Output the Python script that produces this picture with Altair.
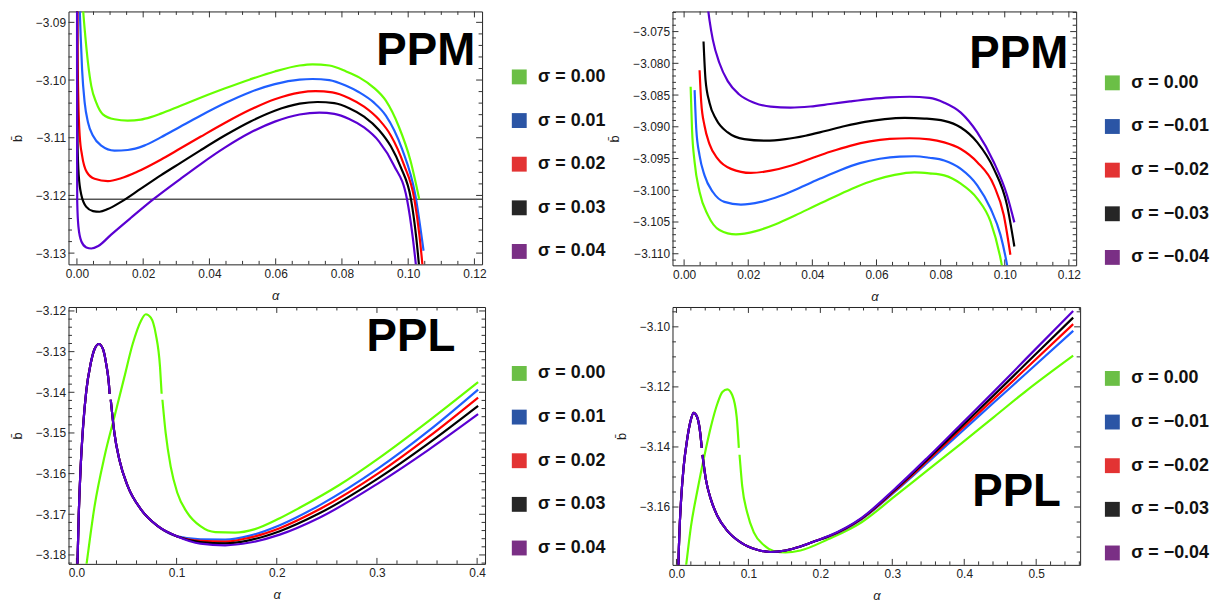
import altair as alt
import pandas as pd

FONT = "Liberation Sans"

# ---------------- categories / styles ----------------
SIG_POS = ["σ = 0.00", "σ = 0.01", "σ = 0.02", "σ = 0.03", "σ = 0.04"]
SIG_NEG = ["σ = 0.00", "σ = −0.01", "σ = −0.02", "σ = −0.03", "σ = −0.04"]
LINE_COLORS = ["#66ff00", "#1f5fff", "#ff0000", "#000000", "#5a00d2"]
LEGEND_COLORS = ["#6bbf46", "#2b55a5", "#e33333", "#262626", "#7a2f85"]

# ---------------- panel 1 : PPM, sigma >= 0 ----------------
P1_S0_A = [0.00174, 0.00186, 0.00254, 0.00335, 0.00434, 0.00584, 0.00784, 0.01132, 0.01533, 0.01931, 0.02231, 0.0253, 0.03129, 0.03728, 0.04476, 0.05225, 0.05973, 0.06722, 0.07111, 0.0762, 0.08129, 0.08518, 0.08967, 0.09326, 0.09716, 0.10066, 0.10335]
P1_S0_B = [-3.08673, -3.08777, -3.09246, -3.09705, -3.10105, -3.10392, -3.10594, -3.10680, -3.10702, -3.10685, -3.10642, -3.10582, -3.10444, -3.10307, -3.10143, -3.09989, -3.09851, -3.09748, -3.09727, -3.09748, -3.09851, -3.09954, -3.10135, -3.10358, -3.10805, -3.11390, -3.12065]
P1_S1_A = [0.00075, 0.00084, 0.00114, 0.00156, 0.00234, 0.00335, 0.00485, 0.00734, 0.01132, 0.01533, 0.0203, 0.0253, 0.03129, 0.03728, 0.04476, 0.05225, 0.05973, 0.06722, 0.07111, 0.0762, 0.08129, 0.08518, 0.08967, 0.09326, 0.09814, 0.10216, 0.10464]
P1_S1_B = [-3.08673, -3.08777, -3.09246, -3.09820, -3.10392, -3.10736, -3.10965, -3.11137, -3.11223, -3.11212, -3.11137, -3.10994, -3.10805, -3.10618, -3.10399, -3.10210, -3.10071, -3.09992, -3.09982, -3.10002, -3.10100, -3.10212, -3.10392, -3.10616, -3.11195, -3.11996, -3.12959]
P1_S2_A = [0.00015, 0.00021, 0.00045, 0.00084, 0.00156, 0.00299, 0.00533, 0.00934, 0.01332, 0.01832, 0.0253, 0.03129, 0.03728, 0.04476, 0.05225, 0.05973, 0.06722, 0.07201, 0.0771, 0.08219, 0.08668, 0.09117, 0.09476, 0.09865, 0.10186, 0.10344, 0.10449]
P1_S2_B = [-3.08673, -3.09533, -3.10392, -3.10965, -3.11309, -3.11596, -3.11711, -3.11751, -3.11702, -3.11587, -3.11381, -3.11183, -3.10984, -3.10740, -3.10516, -3.10332, -3.10217, -3.10193, -3.10214, -3.10315, -3.10461, -3.10685, -3.10960, -3.11458, -3.12065, -3.12713, -3.13315]
P1_S3_A = [0.00005, 0.0001, 0.00018, 0.00054, 0.00135, 0.00284, 0.00485, 0.00683, 0.00934, 0.01332, 0.01931, 0.0253, 0.03129, 0.03728, 0.04476, 0.05225, 0.05973, 0.06722, 0.0726, 0.07769, 0.08219, 0.08668, 0.09117, 0.09476, 0.09775, 0.10084, 0.1024, 0.10344]
P1_S3_B = [-3.08673, -3.10392, -3.11080, -3.11653, -3.11996, -3.12198, -3.12271, -3.12283, -3.12237, -3.12112, -3.11883, -3.11653, -3.11436, -3.11219, -3.10958, -3.10723, -3.10532, -3.10410, -3.10380, -3.10401, -3.10487, -3.10633, -3.10865, -3.11149, -3.11510, -3.12065, -3.12713, -3.13315]
P1_S4_A = [0.00003, 0.00005, 0.00009, 0.00045, 0.00135, 0.00284, 0.00434, 0.00644, 0.01033, 0.01632, 0.02311, 0.03129, 0.03728, 0.04476, 0.05225, 0.05973, 0.06722, 0.0732, 0.07769, 0.08219, 0.08668, 0.09117, 0.09566, 0.09964, 0.10135, 0.10254]
P1_S4_B = [-3.08673, -3.11252, -3.12112, -3.12541, -3.12799, -3.12902, -3.12920, -3.12877, -3.12679, -3.12387, -3.12065, -3.11711, -3.11460, -3.11168, -3.10915, -3.10721, -3.10597, -3.10564, -3.10587, -3.10676, -3.10822, -3.11063, -3.11476, -3.12065, -3.12713, -3.13315]
P1_HLINE = [-3.12065]

# ---------------- panel 2 : PPM, sigma <= 0 ----------------
P2_S0_A = [0.00204, 0.00247, 0.00328, 0.00483, 0.00742, 0.01101, 0.01618, 0.02236, 0.02855, 0.03474, 0.04092, 0.04711, 0.0533, 0.05948, 0.06567, 0.07185, 0.07649, 0.08113, 0.0863, 0.09143, 0.09558, 0.09886, 0.09954]
P2_S0_B = [-3.08370, -3.09038, -3.09558, -3.10027, -3.10391, -3.10625, -3.10695, -3.10644, -3.10534, -3.10394, -3.10245, -3.10097, -3.09956, -3.09839, -3.09758, -3.09719, -3.09734, -3.09766, -3.09897, -3.10131, -3.10495, -3.11120, -3.11308]
P2_S1_A = [0.00328, 0.0038, 0.00483, 0.00637, 0.00897, 0.01256, 0.01772, 0.02391, 0.0301, 0.03628, 0.04247, 0.04865, 0.05484, 0.06103, 0.06721, 0.07185, 0.07649, 0.08113, 0.0863, 0.09143, 0.09558, 0.09867, 0.10071, 0.10108]
P2_S1_B = [-3.08422, -3.09038, -3.09453, -3.09766, -3.10027, -3.10183, -3.10225, -3.10183, -3.10086, -3.09956, -3.09816, -3.09683, -3.09573, -3.09503, -3.09469, -3.09464, -3.09488, -3.09531, -3.09663, -3.09922, -3.10288, -3.10703, -3.11172, -3.11277]
P2_S2_A = [0.00483, 0.00535, 0.00637, 0.00792, 0.01052, 0.01463, 0.02082, 0.027, 0.03319, 0.03938, 0.04556, 0.05175, 0.05793, 0.06412, 0.07031, 0.07649, 0.08113, 0.0863, 0.09143, 0.0966, 0.09969, 0.10176]
P2_S2_B = [-3.08109, -3.08620, -3.08984, -3.09272, -3.09506, -3.09663, -3.09727, -3.09691, -3.09613, -3.09503, -3.09394, -3.09300, -3.09230, -3.09191, -3.09180, -3.09198, -3.09245, -3.09350, -3.09558, -3.09922, -3.10391, -3.11016]
P2_S3_A = [0.00606, 0.00668, 0.00792, 0.00999, 0.01361, 0.01874, 0.02546, 0.03165, 0.03783, 0.04402, 0.0502, 0.05639, 0.06258, 0.06876, 0.07495, 0.08113, 0.0863, 0.09143, 0.0966, 0.10071, 0.103]
P2_S3_B = [-3.07656, -3.08256, -3.08620, -3.08881, -3.09089, -3.09194, -3.09219, -3.09195, -3.09141, -3.09066, -3.08988, -3.08922, -3.08878, -3.08859, -3.08870, -3.08906, -3.09011, -3.09245, -3.09663, -3.10234, -3.10886]
P2_S4_A = [0.0074, 0.00792, 0.00897, 0.01101, 0.01361, 0.0172, 0.02184, 0.027, 0.03319, 0.03938, 0.04556, 0.05175, 0.05793, 0.06412, 0.07031, 0.07649, 0.08113, 0.0863, 0.09143, 0.0966, 0.10071, 0.103]
P2_S4_B = [-3.07120, -3.07319, -3.07631, -3.07995, -3.08281, -3.08491, -3.08620, -3.08683, -3.08698, -3.08680, -3.08641, -3.08600, -3.08563, -3.08536, -3.08527, -3.08545, -3.08620, -3.08777, -3.09089, -3.09558, -3.10078, -3.10506]

# ---------------- panel 3 : PPL, sigma >= 0 ----------------
P3_S0_A1 = [0.00812, 0.0099, 0.01812, 0.02802, 0.03792, 0.04782, 0.05614, 0.06436, 0.06931, 0.07426, 0.07921, 0.08347, 0.08505]
P3_S0_B1 = [-3.18585, -3.18261, -3.16798, -3.15578, -3.14602, -3.13627, -3.12812, -3.12244, -3.12080, -3.12163, -3.12568, -3.13383, -3.14037]
P3_S0_A2 = [0.08584, 0.08911, 0.09406, 0.10069, 0.11059, 0.12376, 0.13861, 0.15842, 0.17822, 0.20297, 0.22277, 0.26238, 0.30198, 0.35149, 0.40099]
P3_S0_B2 = [-3.14183, -3.15007, -3.15822, -3.16471, -3.16959, -3.17293, -3.17439, -3.17451, -3.17366, -3.17098, -3.16841, -3.16280, -3.15617, -3.14707, -3.13749]
P3_RISE_A = [0.00059, 0.00099, 0.00228, 0.00426, 0.00663, 0.0099, 0.01416, 0.01812, 0.02248, 0.02644, 0.0297, 0.03238, 0.03317]
P3_RISE_B = [-3.18585, -3.18261, -3.17041, -3.15822, -3.14846, -3.13951, -3.13300, -3.12934, -3.12812, -3.12934, -3.13300, -3.13788, -3.14037]
P3_FALL_A = [0.03426, 0.03792, 0.04287, 0.05119, 0.06436, 0.08089, 0.10069]
P3_FALL_B = [-3.14183, -3.15007, -3.15659, -3.16310, -3.16878, -3.17285, -3.17544]
P3_TAIL_A = [0.12376, 0.14851, 0.17327, 0.20297, 0.24257, 0.30198, 0.35149, 0.40099]
P3_S1_TAIL_B = [-3.17617, -3.17622, -3.17524, -3.17268, -3.16780, -3.15861, -3.14951, -3.13934]
P3_S2_TAIL_B = [-3.17651, -3.17671, -3.17573, -3.17341, -3.16878, -3.15983, -3.15098, -3.14129]
P3_S3_TAIL_B = [-3.17683, -3.17715, -3.17634, -3.17415, -3.16976, -3.16105, -3.15256, -3.14334]
P3_S4_TAIL_B = [-3.17720, -3.17763, -3.17695, -3.17500, -3.17085, -3.16227, -3.15415, -3.14537]

# ---------------- panel 4 : PPL, sigma <= 0 ----------------
P4_S0_A1 = [0.01103, 0.01337, 0.02026, 0.02936, 0.0386, 0.04784, 0.05693, 0.06383, 0.07072, 0.07761, 0.08368, 0.08671]
P4_S0_B1 = [-3.18388, -3.17949, -3.16628, -3.15416, -3.14316, -3.13326, -3.12553, -3.12170, -3.12081, -3.12279, -3.12995, -3.14029]
P4_S0_A2 = [0.08767, 0.08823, 0.0914, 0.09829, 0.10753, 0.12131, 0.1351, 0.15164, 0.17232, 0.21133, 0.25738, 0.30328, 0.34919, 0.39523, 0.44114, 0.48704, 0.55142]
P4_S0_B2 = [-3.14260, -3.14425, -3.15307, -3.16186, -3.16846, -3.17266, -3.17464, -3.17513, -3.17447, -3.17067, -3.16506, -3.15647, -3.14772, -3.13897, -3.13005, -3.12114, -3.10958]
P4_RISE_A = [0.00248, 0.00276, 0.00414, 0.00648, 0.01006, 0.01475, 0.0193, 0.02385, 0.02854, 0.03309, 0.03515]
P4_RISE_B = [-3.18388, -3.17949, -3.16846, -3.15746, -3.14647, -3.13765, -3.13160, -3.12863, -3.12995, -3.13544, -3.14029]
P4_FALL_A = [0.03612, 0.04094, 0.04784, 0.05693, 0.07072, 0.08919, 0.11208, 0.13096, 0.15164, 0.17232, 0.193]
P4_FALL_B = [-3.14260, -3.15086, -3.15746, -3.16298, -3.16793, -3.17176, -3.17421, -3.17497, -3.17447, -3.17315, -3.17133]
P4_TAIL_A = [0.21133, 0.25738, 0.30328, 0.34919, 0.39523, 0.44114, 0.48704, 0.55142]
P4_S1_TAIL_B = [-3.16991, -3.16408, -3.15499, -3.14515, -3.13517, -3.12520, -3.11529, -3.10132]
P4_S2_TAIL_B = [-3.16982, -3.16392, -3.15466, -3.14458, -3.13428, -3.12398, -3.11364, -3.09911]
P4_S3_TAIL_B = [-3.16975, -3.16375, -3.15433, -3.14406, -3.13342, -3.12279, -3.11199, -3.09693]
P4_S4_TAIL_B = [-3.16965, -3.16359, -3.15400, -3.14349, -3.13253, -3.12157, -3.11034, -3.09472]

# ---------------- ticks ----------------
P1_XT = [0.0, 0.02, 0.04, 0.06, 0.08, 0.10, 0.12]
P1_YT = [-3.09, -3.10, -3.11, -3.12, -3.13]
P2_XT = [0.0, 0.02, 0.04, 0.06, 0.08, 0.10, 0.12]
P2_YT = [-3.075, -3.080, -3.085, -3.090, -3.095, -3.100, -3.105, -3.110]
P3_XT = [0.0, 0.1, 0.2, 0.3, 0.4]
P3_YT = [-3.12, -3.13, -3.14, -3.15, -3.16, -3.17, -3.18]
P4_XT = [0.0, 0.1, 0.2, 0.3, 0.4, 0.5]
P4_YT = [-3.10, -3.12, -3.14, -3.16]


def minor_ticks(majors, step, dom):
    lo, hi = min(dom), max(dom)
    start = min(majors) - 10 * step
    out = []
    for i in range(400):
        v = round(start + i * step, 6)
        if lo <= v <= hi and all(abs(v - m) > step / 10 for m in majors):
            out.append(v)
    return out


TICK_COLOR = "#333333"


def panel(curves, labels, xdom, ydom, xt, xstep, yt, ystep, xfmt, yfmt,
          w, h, lx, ly, word, wx, wy, hline=None):
    rows = []
    for k, segs in enumerate(curves):
        for s, (A, B) in enumerate(segs):
            for i, (a, b) in enumerate(zip(A, B)):
                rows.append({"k": k, "seg": s, "o": i, "a": a, "b": b})
    df = pd.DataFrame(rows)
    xs = alt.Scale(domain=xdom, nice=False, zero=False)
    ys = alt.Scale(domain=ydom, nice=False, zero=False)
    xm = minor_ticks(xt, xstep, xdom)
    ym = minor_ticks(yt, ystep, ydom)

    layers = []
    # labelled axes (no tick marks; ticks are drawn inward below)
    layers.append(
        alt.Chart(df).mark_point(opacity=0, clip=True).encode(
            x=alt.X("a:Q", scale=xs, axis=alt.Axis(
                values=xt, format=xfmt, ticks=False, domain=False, grid=False,
                labelPadding=4, labelFlush=False, labelOverlap=False,
                title="α", titleFontStyle="italic", titlePadding=10)),
            y=alt.Y("b:Q", scale=ys, axis=alt.Axis(
                values=yt, format=yfmt, ticks=False, domain=False, grid=False,
                labelPadding=3, labelFlush=False, labelOverlap=False,
                title="b\u0304", titlePadding=11))))

    # inward tick marks on all four sides (major and minor)
    for vals, L in [(xt, 6), (xm, 3.5)]:
        tdf = pd.DataFrame({"v": vals})
        layers.append(alt.Chart(tdf).mark_rule(color=TICK_COLOR, strokeWidth=1).encode(
            x=alt.X("v:Q", scale=xs, axis=None), y=alt.value(h), y2=alt.value(h - L)))
        layers.append(alt.Chart(tdf).mark_rule(color=TICK_COLOR, strokeWidth=1).encode(
            x=alt.X("v:Q", scale=xs, axis=None), y=alt.value(0), y2=alt.value(L)))
    for vals, L in [(yt, 6), (ym, 3.5)]:
        tdf = pd.DataFrame({"v": vals})
        layers.append(alt.Chart(tdf).mark_rule(color=TICK_COLOR, strokeWidth=1).encode(
            y=alt.Y("v:Q", scale=ys, axis=None), x=alt.value(0), x2=alt.value(L)))
        layers.append(alt.Chart(tdf).mark_rule(color=TICK_COLOR, strokeWidth=1).encode(
            y=alt.Y("v:Q", scale=ys, axis=None), x=alt.value(w), x2=alt.value(w - L)))

    if hline:
        layers.append(
            alt.Chart(pd.DataFrame({"b": hline})).mark_rule(color="black", strokeWidth=1).encode(
                y=alt.Y("b:Q", scale=ys, axis=None)))
    for k in range(len(curves)):
        layers.append(
            alt.Chart(df).transform_filter(alt.datum.k == k).mark_line(
                color=LINE_COLORS[k], strokeWidth=2.2, clip=True, interpolate="monotone").encode(
                x=alt.X("a:Q", scale=xs, axis=None),
                y=alt.Y("b:Q", scale=ys, axis=None),
                detail="seg:N",
                order="o:Q"))
    layers.append(
        alt.Chart(pd.DataFrame({"t": [word]})).mark_text(
            font=FONT, fontSize=46, fontWeight="bold", align="right",
            baseline="alphabetic", color="black").encode(
            x=alt.value(wx), y=alt.value(wy), text="t:N"))
    layers.append(
        alt.Chart(pd.DataFrame({"lab": labels})).mark_square(opacity=0, size=1).encode(
            fill=alt.Fill("lab:N", sort=labels,
                          scale=alt.Scale(domain=labels, range=LEGEND_COLORS),
                          legend=alt.Legend(orient="none", legendX=lx, legendY=ly, title=None,
                                            symbolType="square", symbolSize=225, symbolOpacity=1,
                                            symbolStrokeWidth=0, labelFont=FONT, labelFontSize=18,
                                            labelFontWeight="bold", labelColor="#111",
                                            labelOffset=10, rowPadding=26, padding=0))))
    return alt.layer(*layers).resolve_axis(x="independent", y="independent").properties(
        width=w, height=h)


p1 = panel(
    [[(P1_S0_A, P1_S0_B)], [(P1_S1_A, P1_S1_B)], [(P1_S2_A, P1_S2_B)],
     [(P1_S3_A, P1_S3_B)], [(P1_S4_A, P1_S4_B)]],
    SIG_POS, [-0.002545, 0.122305], [-3.131947, -3.08811], P1_XT, 0.005, P1_YT, 0.002,
    ".2f", ".2f", 417, 255, 445.5, 57, "PPM", 410, 53.7, hline=P1_HLINE)

p2 = panel(
    [[(P2_S0_A, P2_S0_B)], [(P2_S1_A, P2_S1_B)], [(P2_S2_A, P2_S2_B)],
     [(P2_S3_A, P2_S3_B)], [(P2_S4_A, P2_S4_B)]],
    SIG_NEG, [-0.003619, 0.12227], [-3.111828, -3.071828], P2_XT, 0.005, P2_YT, 0.001,
    ".2f", ".3f", 407, 256, 434.5, 63, "PPM", 399, 57)

p3_curves = [[(P3_S0_A1, P3_S0_B1), (P3_S0_A2, P3_S0_B2)]]
for tail in [P3_S1_TAIL_B, P3_S2_TAIL_B, P3_S3_TAIL_B, P3_S4_TAIL_B]:
    p3_curves.append([(P3_RISE_A, P3_RISE_B), (P3_FALL_A + P3_TAIL_A, P3_FALL_B + tail)])
p3 = panel(
    p3_curves, SIG_POS, [-0.007921, 0.407921], [-3.182195, -3.119024], P3_XT, 0.02, P3_YT, 0.002,
    ".1f", ".2f", 420, 259, 445.5, 58, "PPL", 390, 44)

p4_curves = [[(P4_S0_A1, P4_S0_B1), (P4_S0_A2, P4_S0_B2)]]
for tail in [P4_S1_TAIL_B, P4_S2_TAIL_B, P4_S3_TAIL_B, P4_S4_TAIL_B]:
    p4_curves.append([(P4_RISE_A, P4_RISE_B), (P4_FALL_A + P4_TAIL_A, P4_FALL_B + tail)])
p4 = panel(
    p4_curves, SIG_NEG, [-0.005514, 0.56107], [-3.179261, -3.093395], P4_XT, 0.02, P4_YT, 0.005,
    ".1f", ".2f", 411, 260, 434.5, 63, "PPL", 391.7, 200.7)

chart = alt.concat(p1, p2, p3, p4, columns=2, spacing={"row": 42, "column": 189}).resolve_scale(
    fill="independent").resolve_legend(fill="independent").properties(
    bounds="flush", align="none",
    padding={"left": 3, "top": 0, "right": 5, "bottom": 0}).configure_view(
    stroke="#222", strokeWidth=1).configure_axis(
    labelFont=FONT, labelFontSize=12, labelColor="#222",
    titleFont=FONT, titleFontSize=13, titleColor="#222", titleFontWeight="normal")

chart.save("out.html", embed_options={"renderer": "svg", "actions": False})
